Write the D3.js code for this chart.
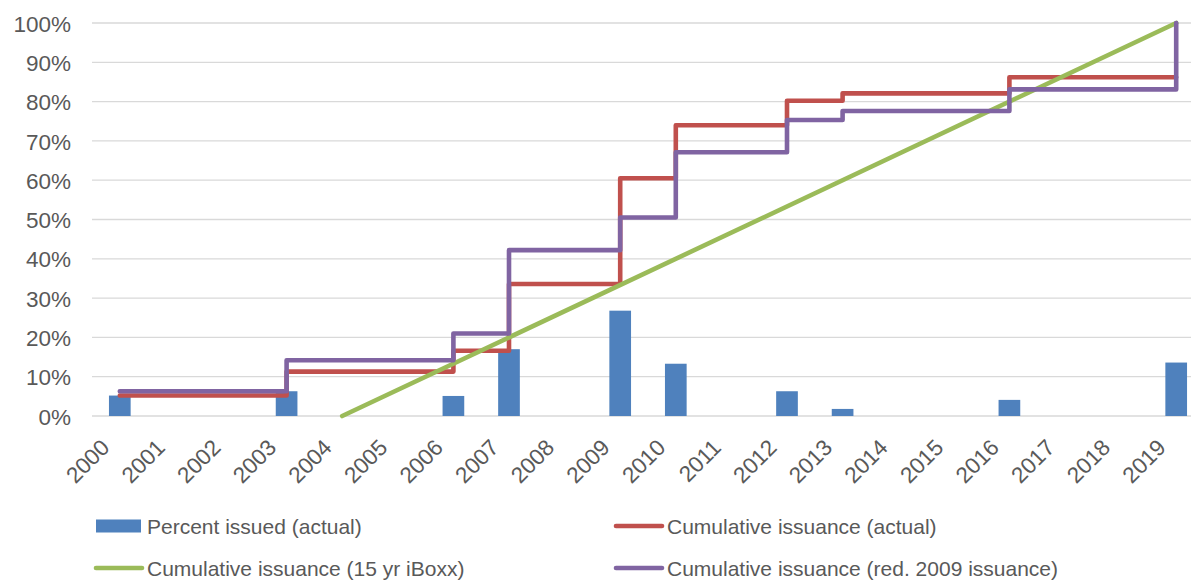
<!DOCTYPE html>
<html>
<head>
<meta charset="utf-8">
<script src="https://cdn.jsdelivr.net/npm/d3@7"></script>
<style>
  html, body { margin: 0; padding: 0; background: #fff; }
  svg { display: block; font-family: "Liberation Sans", Arial, sans-serif; }
</style>
</head>
<body>
<svg id="chart" width="1191" height="580"></svg>
<script>
// Years on the category axis
const years = d3.range(2000, 2020).map(String);
const yTicks = [0, 0.1, 0.2, 0.3, 0.4, 0.5, 0.6, 0.7, 0.8, 0.9, 1.0];

// Share of the total issued in each year (actual)
const issuedYears = ["2000", "2003", "2006", "2007", "2009", "2010", "2012", "2013", "2016", "2019"];
const issuedPct   = [0.052, 0.063, 0.051, 0.170, 0.268, 0.133, 0.063, 0.018, 0.041, 0.136];

// Cumulative issuance (actual), level after each issuing year
const actualYears = ["2000", "2003", "2006", "2007", "2009", "2010", "2012", "2013", "2016", "2019"];
const actualCum   = [0.052, 0.113, 0.166, 0.336, 0.605, 0.740, 0.802, 0.821, 0.862, 0.862];

// Cumulative issuance with reduced 2009 issuance
const reducedYears = ["2000", "2003", "2006", "2007", "2009", "2010", "2012", "2013", "2016", "2019"];
const reducedCum   = [0.063, 0.142, 0.210, 0.422, 0.505, 0.671, 0.753, 0.776, 0.831, 1.000];

// Cumulative issuance following the 15 yr iBoxx profile
const iboxxYears = ["2004", "2019"];
const iboxxCum   = [0.0, 1.0];

const legendLabels = [
  "Percent issued (actual)",
  "Cumulative issuance (actual)",
  "Cumulative issuance (15 yr iBoxx)",
  "Cumulative issuance (red. 2009 issuance)"
];

const colors = {
  bar: "#4F81BD",
  actual: "#C0504D",
  iboxx: "#9BBB59",
  reduced: "#8064A2"
};

const svg = d3.select("#chart");

const x = d3.scaleBand().domain(years).range([92, 1204]).paddingInner(0.61).paddingOuter(0.305);
const xc = d => x(d) + x.bandwidth() / 2;
const y = d3.scaleLinear().domain([0, 1]).range([416, 23]);

// Horizontal gridlines
svg.append("g")
  .selectAll("line")
  .data(yTicks)
  .join("line")
  .attr("x1", 92).attr("x2", 1191)
  .attr("y1", d => y(d)).attr("y2", d => y(d))
  .attr("stroke", "#d9d9d9").attr("stroke-width", 1.3);

// Y axis labels
const yAxis = d3.axisLeft(y).tickValues(yTicks).tickFormat(d3.format(".0%")).tickSize(0).tickPadding(0);
svg.append("g")
  .attr("transform", "translate(71,0)")
  .call(yAxis)
  .call(g => g.select(".domain").remove())
  .call(g => g.selectAll("text")
    .attr("font-size", 22.5)
    .attr("font-family", "Liberation Sans, Arial, sans-serif")
    .attr("fill", "#595959")
    .attr("dy", "0.36em"));

// X axis labels, rotated 45 degrees and ending just left of each tick
const xAxis = d3.axisBottom(x).tickSize(0).tickPadding(0);
svg.append("g")
  .attr("transform", "translate(0,416)")
  .call(xAxis)
  .call(g => g.select(".domain").remove())
  .call(g => g.selectAll(".tick text")
    .attr("font-size", 22.5)
    .attr("font-family", "Liberation Sans, Arial, sans-serif")
    .attr("fill", "#595959")
    .attr("text-anchor", "end")
    .attr("x", 0)
    .attr("y", 0)
    .attr("dy", 0)
    .attr("transform", "translate(-9,33) rotate(-45)"));

// Bars
svg.append("g")
  .selectAll("rect")
  .data(issuedYears.map((yr, i) => ({ yr, v: issuedPct[i] })))
  .join("rect")
  .attr("x", d => x(d.yr))
  .attr("width", x.bandwidth())
  .attr("y", d => y(d.v))
  .attr("height", d => y(0) - y(d.v))
  .attr("fill", colors.bar);

const stepLine = d3.line().x(d => xc(d.yr)).y(d => y(d.v)).curve(d3.curveStepAfter);
const straightLine = d3.line().x(d => xc(d.yr)).y(d => y(d.v));

function drawSeries(gen, ys, vs, color) {
  svg.append("path")
    .datum(ys.map((yr, i) => ({ yr, v: vs[i] })))
    .attr("d", gen)
    .attr("fill", "none")
    .attr("stroke", color)
    .attr("stroke-width", 4.6)
    .attr("stroke-linejoin", "round")
    .attr("stroke-linecap", "round");
}

drawSeries(stepLine, actualYears, actualCum, colors.actual);
drawSeries(straightLine, iboxxYears, iboxxCum, colors.iboxx);
drawSeries(stepLine, reducedYears, reducedCum, colors.reduced);

// Legend
const legendItems = [
  { label: legendLabels[0], type: "bar",  color: colors.bar,     x: 96,  y: 526 },
  { label: legendLabels[1], type: "line", color: colors.actual,  x: 615, y: 526 },
  { label: legendLabels[2], type: "line", color: colors.iboxx,   x: 95,  y: 568 },
  { label: legendLabels[3], type: "line", color: colors.reduced, x: 615, y: 568 }
];

const lg = svg.append("g").selectAll("g").data(legendItems).join("g")
  .attr("transform", d => `translate(${d.x},${d.y})`);

lg.filter(d => d.type === "bar").append("rect")
  .attr("x", 0).attr("y", -6.5).attr("width", 45).attr("height", 13)
  .attr("fill", d => d.color);

lg.filter(d => d.type === "line").append("line")
  .attr("x1", 1).attr("x2", 47).attr("y1", 0).attr("y2", 0)
  .attr("stroke", d => d.color).attr("stroke-width", 4.6).attr("stroke-linecap", "round");

lg.append("text")
  .attr("x", d => d.type === "bar" ? 51 : 52)
  .attr("y", 8)
  .attr("font-size", 21)
  .attr("fill", "#595959")
  .text(d => d.label);
</script>
</body>
</html>
